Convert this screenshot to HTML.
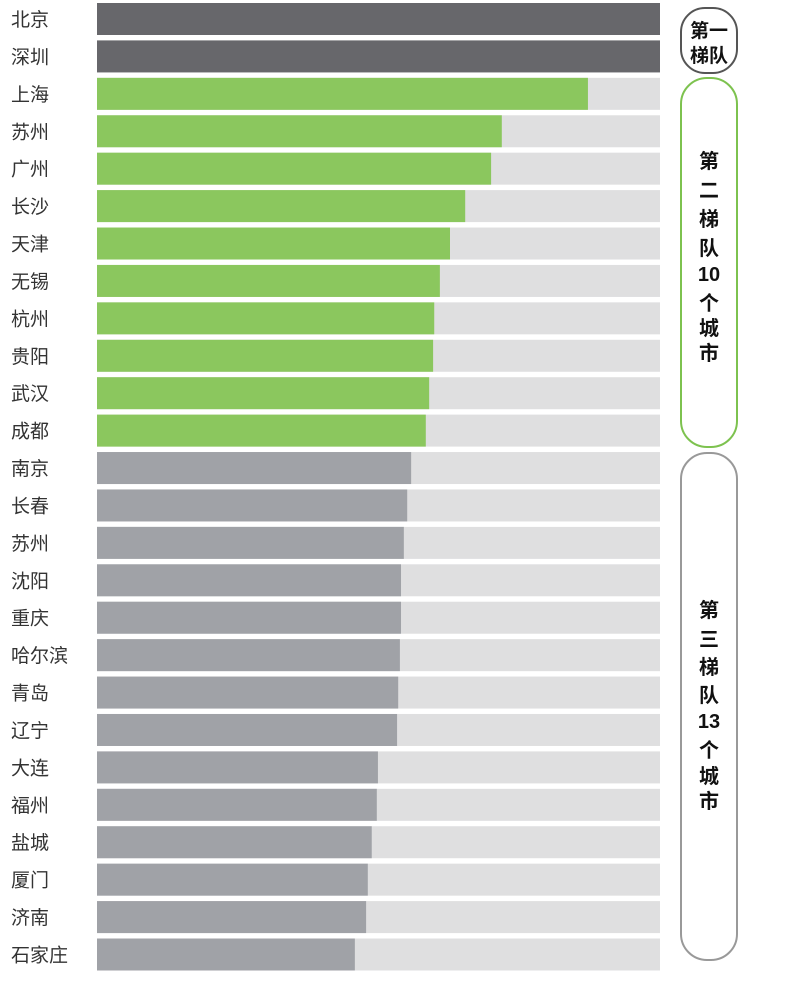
<!DOCTYPE html>
<html><head><meta charset="utf-8"><style>
html,body{margin:0;padding:0;background:#fff;width:800px;height:983px;overflow:hidden}
svg{display:block}
text{font-family:"Liberation Sans","Noto Sans CJK SC",sans-serif}
</style></head><body>
<svg id="chart" width="800" height="983" viewBox="0 0 800 983">
<g id="bars"></g>
<g>
<rect x="681" y="8" width="56" height="65" rx="24" fill="none" stroke="#555" stroke-width="2"/>
<text x="709" y="37" text-anchor="middle" font-size="19" font-weight="bold" fill="#111">第一</text>
<text x="709" y="62" text-anchor="middle" font-size="19" font-weight="bold" fill="#111">梯队</text>
</g>
<g>
<rect x="681" y="78" width="56" height="369" rx="26" fill="none" stroke="#7dc24f" stroke-width="2"/>
<text x="709" y="168" text-anchor="middle" font-size="20" font-weight="bold" fill="#111">第</text>
<text x="709" y="197" text-anchor="middle" font-size="20" font-weight="bold" fill="#111">二</text>
<text x="709" y="226" text-anchor="middle" font-size="20" font-weight="bold" fill="#111">梯</text>
<text x="709" y="255" text-anchor="middle" font-size="20" font-weight="bold" fill="#111">队</text>
<text x="709" y="281" text-anchor="middle" font-size="20" font-weight="bold" fill="#111">10</text>
<text x="709" y="310" text-anchor="middle" font-size="20" font-weight="bold" fill="#111">个</text>
<text x="709" y="335" text-anchor="middle" font-size="20" font-weight="bold" fill="#111">城</text>
<text x="709" y="360" text-anchor="middle" font-size="20" font-weight="bold" fill="#111">市</text>
</g>
<g>
<rect x="681" y="453" width="56" height="507" rx="26" fill="none" stroke="#999" stroke-width="2"/>
<text x="709" y="617" text-anchor="middle" font-size="20" font-weight="bold" fill="#111">第</text>
<text x="709" y="646" text-anchor="middle" font-size="20" font-weight="bold" fill="#111">三</text>
<text x="709" y="674" text-anchor="middle" font-size="20" font-weight="bold" fill="#111">梯</text>
<text x="709" y="702" text-anchor="middle" font-size="20" font-weight="bold" fill="#111">队</text>
<text x="709" y="728" text-anchor="middle" font-size="20" font-weight="bold" fill="#111">13</text>
<text x="709" y="757" text-anchor="middle" font-size="20" font-weight="bold" fill="#111">个</text>
<text x="709" y="783" text-anchor="middle" font-size="20" font-weight="bold" fill="#111">城</text>
<text x="709" y="808" text-anchor="middle" font-size="20" font-weight="bold" fill="#111">市</text>
</g>
</svg>
<script>
const cities = ["北京","深圳","上海","苏州","广州","长沙","天津","无锡","杭州","贵阳","武汉","成都","南京","长春","苏州","沈阳","重庆","哈尔滨","青岛","辽宁","大连","福州","盐城","厦门","济南","石家庄"];
const values = [100,100,87.2,71.9,70.0,65.4,62.7,60.9,59.9,59.7,59.0,58.4,55.8,55.1,54.5,54.0,54.0,53.8,53.5,53.3,49.9,49.7,48.8,48.1,47.8,45.8];
const tiers = [1,1,2,2,2,2,2,2,2,2,2,2,3,3,3,3,3,3,3,3,3,3,3,3,3,3];
const x0 = 97, x1 = 660, y0 = 3, pitch = 37.42, barH = 32;
const xScale = v => x0 + (x1 - x0) * v / 100;
const yScale = i => y0 + i * pitch;
const colors = {1:"#67676b",2:"#8bc75e",3:"#a0a2a7"};
const NS = "http://www.w3.org/2000/svg";
const g = document.getElementById("bars");
cities.forEach((c, i) => {
  const y = yScale(i);
  const bg = document.createElementNS(NS, "rect");
  bg.setAttribute("x", x0); bg.setAttribute("y", y); bg.setAttribute("width", x1 - x0); bg.setAttribute("height", barH); bg.setAttribute("fill", "#dfdfe0");
  
  
  g.appendChild(bg);
  const r = document.createElementNS(NS, "rect");
  r.setAttribute("x", x0); r.setAttribute("y", y); r.setAttribute("width", xScale(values[i]) - x0); r.setAttribute("height", barH); r.setAttribute("fill", colors[tiers[i]]);
  
  
  g.appendChild(r);
  const t = document.createElementNS(NS, "text");
  t.setAttribute("x", 11); t.setAttribute("y", y + barH / 2 + 7); t.setAttribute("font-size", "19"); t.setAttribute("fill", "#333");
  t.textContent = c;
  
  
  g.appendChild(t);
});
</script>
</body></html>
